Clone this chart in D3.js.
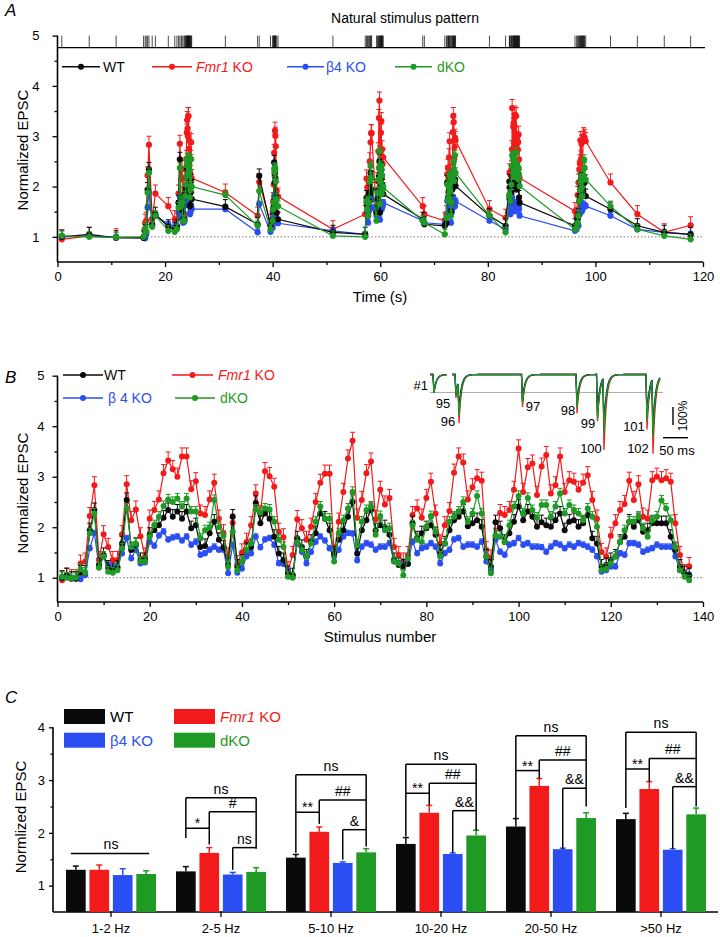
<!DOCTYPE html>
<html><head><meta charset="utf-8">
<script src="https://cdn.jsdelivr.net/npm/d3@7"></script>
<style>
body{margin:0;background:#fff;}
svg{display:block;font-family:"Liberation Sans",Arial,Helvetica,sans-serif;}
</style></head><body>
<svg id="fig" width="720" height="937"></svg>
<script>
// ---------------- DATA ----------------
const stimTimes = [0.8,5.9,10.9,16.0,16.3,16.5,16.75,17.0,17.6,18.2,
 20.6,21.8,22.2,22.5,22.75,23.0,23.15,23.35,23.6,23.75,
 23.85,23.95,24.03,24.1,24.17,24.24,24.3,24.36,24.45,24.53,
 24.62,24.7,24.77,24.84,24.95,31.2,37.2,37.5,39.6,40.0,
 40.1,40.2,40.28,40.36,40.43,40.5,40.58,40.75,41.0,51.2,
 57.2,57.45,57.6,57.75,57.9,58.05,58.2,58.3,58.4,59.3,
 59.5,59.65,59.75,59.85,59.95,60.05,60.13,60.2,60.28,60.36,
 60.45,60.55,67.9,68.2,72.0,72.3,72.45,72.6,72.7,72.8,
 72.9,73.0,73.15,73.3,73.4,73.5,73.58,73.66,73.75,73.83,
 73.9,74.0,80.3,83.3,84.0,84.05,84.2,84.38,84.48,84.52,
 84.7,84.73,84.8,84.9,84.98,85.05,85.12,85.2,85.27,85.35,
 85.42,85.5,85.57,85.64,85.72,85.8,85.9,96.2,96.5,96.7,
 96.85,97.0,97.1,97.2,97.3,97.4,97.5,97.6,97.7,97.8,
 97.9,98.0,98.2,102.8,107.8,112.8,117.7];

const wtEPSC = [1.0,1.05,0.98,0.98,1.1,1.1,1.94,2.34,1.25,1.45,
 1.2,1.15,1.2,1.68,2.54,1.55,1.65,1.35,1.35,1.85,
 1.94,2.04,2.19,2.34,2.21,2.31,2.17,2.31,1.98,2.04,
 1.61,1.63,1.88,2.11,1.75,1.6,1.25,2.21,1.22,1.32,
 1.55,1.61,2.48,2.08,2.27,2.17,1.81,1.48,1.35,1.09,
 1.05,1.78,1.61,1.42,1.71,1.88,2.27,2.17,1.94,1.48,
 1.75,1.94,2.21,2.5,1.48,1.94,2.14,2.34,1.94,2.04,
 2.0,1.85,1.35,1.25,1.22,1.27,2.08,1.78,1.88,1.98,
 2.04,1.85,1.51,1.68,1.94,2.14,2.21,2.31,2.02,2.08,
 2.14,2.01,1.42,1.22,2.1,1.98,1.71,1.88,2.11,2.41,
 2.14,2.31,2.21,2.01,2.1,2.04,2.01,2.14,2.27,1.94,
 2.11,2.14,2.01,2.08,2.24,1.78,1.68,1.22,1.25,1.35,
 1.42,1.71,1.81,2.11,2.01,2.14,1.91,1.94,2.08,2.08,
 2.08,2.08,1.81,1.55,1.22,1.09,1.05];

const fmr1EPSC = [0.95,1.02,0.99,0.99,1.28,1.32,2.22,2.83,1.35,1.86,
 1.61,1.35,1.35,1.86,2.85,2.14,2.35,1.82,1.42,2.17,
 2.34,2.55,3.07,3.32,3.15,3.0,3.4,3.4,2.75,2.91,
 2.27,2.24,2.55,2.88,2.17,1.88,1.42,2.09,1.27,1.5,
 1.71,2.04,2.67,2.26,3.11,3.01,2.8,1.91,1.8,1.15,
 1.45,2.16,1.98,1.75,2.01,2.5,2.88,3.06,3.06,1.48,
 2.11,2.7,3.36,3.71,2.19,2.54,3.07,3.3,2.16,2.74,
 2.45,2.58,1.61,1.45,1.32,1.45,2.24,2.37,2.19,2.58,
 2.9,2.27,1.68,2.04,2.32,3.08,3.4,3.28,2.55,2.79,
 2.97,2.92,1.55,1.38,1.81,2.28,2.24,2.34,2.74,3.56,
 2.7,3.19,3.26,2.64,3.2,3.43,2.67,2.83,3.4,2.7,
 2.93,2.9,2.74,2.88,3.03,2.54,2.17,1.51,1.42,1.83,
 2.08,2.34,2.46,2.92,2.54,2.85,2.21,2.17,2.93,3.0,
 2.93,2.97,2.9,2.08,1.45,1.09,1.23];

const b4EPSC = [1.0,1.02,0.99,0.98,0.97,1.05,1.58,1.88,1.22,1.42,
 1.25,1.2,1.22,1.48,1.78,1.38,1.55,1.28,1.3,1.71,
 1.63,1.83,1.91,1.75,1.79,1.81,1.73,1.81,1.65,1.71,
 1.45,1.48,1.55,1.61,1.55,1.55,1.09,1.65,1.1,1.18,
 1.42,1.48,1.81,1.6,1.75,1.78,1.65,1.28,1.27,1.12,
 1.05,1.68,1.51,1.28,1.51,1.71,1.81,1.73,1.58,1.42,
 1.55,1.81,1.88,1.87,1.34,1.61,1.68,1.65,1.55,1.61,
 1.61,1.68,1.32,1.28,1.25,1.28,1.71,1.48,1.58,1.61,
 1.68,1.61,1.28,1.48,1.55,1.75,1.78,1.61,1.65,1.65,
 1.61,1.71,1.32,1.15,1.75,1.51,1.45,1.65,1.68,1.78,
 1.65,1.68,1.61,1.61,1.6,1.51,1.61,1.68,1.65,1.58,
 1.65,1.61,1.68,1.65,1.61,1.55,1.42,1.12,1.15,1.22,
 1.22,1.48,1.45,1.68,1.68,1.65,1.51,1.55,1.58,1.65,
 1.61,1.61,1.61,1.42,1.15,1.09,1.05];

const dkoEPSC = [1.02,1.0,0.99,1.0,1.17,1.1,1.88,2.27,1.2,1.42,
 1.12,1.1,1.15,1.58,2.37,1.61,1.68,1.32,1.32,1.81,
 2.04,2.21,2.42,2.55,2.5,2.57,2.41,2.57,2.31,2.31,
 1.78,1.94,2.0,2.54,2.0,1.83,1.22,1.91,1.15,1.32,
 1.55,1.68,2.35,2.29,2.37,2.35,2.11,1.75,1.61,1.02,
 1.0,1.71,1.55,1.42,1.68,2.11,2.41,2.17,2.17,1.32,
 1.88,2.14,2.37,2.7,1.65,2.11,2.34,2.41,1.85,2.22,
 1.94,1.98,1.32,1.28,1.05,1.38,2.04,1.75,1.71,2.01,
 2.22,1.91,1.42,1.68,2.11,2.21,2.31,2.5,2.11,2.27,
 2.62,2.27,1.42,1.09,1.84,1.81,1.71,2.04,2.41,2.62,
 2.27,2.58,2.34,2.19,2.44,2.44,2.21,2.41,2.67,2.27,
 2.44,2.34,2.27,2.14,2.37,2.21,2.01,1.15,1.18,1.28,
 1.42,1.71,1.94,2.11,2.11,2.21,1.98,1.81,2.14,2.21,
 2.53,2.37,2.14,1.61,1.15,1.02,0.95];

// approximate SEM per genotype (panels A, B)
const semWT = 0.14, semFmr1 = 0.17, semB4 = 0.06, semDKO = 0.10;

// inset traces (stimuli 95-102), time in ms, peaks normalized to #1
const insetLabels = ["95","96","97","98","99","100","101","102"];
const insetTimes = [6,12,139,248,289,302,388,400];
const insetFmr1 = [1.3,2.7,1.8,2.15,2.6,4.2,3.05,4.4];
const insetDKO  = [1.2,2.3,1.6,1.85,2.5,3.3,2.6,3.5];
const insetWT   = [1.15,2.1,1.5,1.7,2.3,3.1,2.4,3.3];
const insetB4   = [1.1,1.9,1.4,1.55,2.0,2.7,2.2,2.9];

// panel C
const freqCats = ["1-2 Hz","2-5 Hz","5-10 Hz","10-20 Hz","20-50 Hz",">50 Hz"];
const barWT   = [1.30,1.27,1.53,1.79,2.12,2.26];
const barFmr1 = [1.30,1.62,2.02,2.38,2.89,2.83];
const barB4   = [1.20,1.21,1.43,1.60,1.69,1.68];
const barDKO  = [1.22,1.26,1.63,1.95,2.28,2.35];
const errWT   = [0.07,0.09,0.06,0.12,0.15,0.11];
const errFmr1 = [0.09,0.10,0.09,0.14,0.14,0.14];
const errB4   = [0.12,0.04,0.02,0.02,0.02,0.02];
const errDKO  = [0.06,0.08,0.07,0.10,0.10,0.12];
// significance annotations
const sigOuter = [1.61,2.667,3.10,3.30,3.84,3.905];
const sigStar  = [null,2.087,2.39,2.75,3.18,3.21];
const sigHash  = [null,2.40,2.62,2.94,3.38,3.41];
const sigAmp   = [null,1.72,2.06,2.42,2.845,2.875];
const lblOuter = ["ns","ns","ns","ns","ns","ns"];
const lblStar  = [null,"*","**","**","**","**"];
const lblHash  = [null,"#","##","##","##","##"];
const lblAmp   = [null,"ns","&","&&","&&","&&"];
const dropWT   = [null,1.90,1.625,1.93,2.28,2.47];
const dropFmr1 = [null,1.78,2.17,2.53,3.03,2.97];
const dropB4   = [null,1.30,1.49,1.625,1.69,1.70];
const dropDKO  = [null,1.70,1.74,2.05,2.50,2.50];

// ---------------- DRAW ----------------
const COL = {wt:"#0a0a0a", fmr:"#f21a1a", b4:"#2b4ef2", dko:"#1f9a25"};
const svg = d3.select("#fig");
const FONT = '"Liberation Sans",Arial,Helvetica,sans-serif';
const intFmt = d3.format("d");

const series = [
  {key:"fmr", vals:fmr1EPSC, sem:semFmr1},
  {key:"b4",  vals:b4EPSC,   sem:semB4},
  {key:"wt",  vals:wtEPSC,   sem:semWT},
  {key:"dko", vals:dkoEPSC,  sem:semDKO}
];

function styleAxis(g, fs){
  g.select(".domain").remove();
  g.selectAll("line").attr("stroke","#000").attr("stroke-width",1.3);
  g.selectAll("text").attr("font-size",fs||13).attr("fill","#000").attr("font-family",FONT);
}
function letter(txt,x,y){
  svg.append("text").attr("x",x).attr("y",y).attr("font-size",17).attr("font-style","italic").text(txt);
}
function drawSeries(g, xs, yScale, r){
  series.forEach(s=>{
    const c = COL[s.key];
    const pts = s.vals.map((v,i)=>({x:xs(i), v}));
    const gg = g.append("g");
    pts.forEach(p=>{
      const yt = yScale(p.v + s.sem);
      gg.append("line").attr("x1",p.x).attr("x2",p.x).attr("y1",yScale(p.v)).attr("y2",yt).attr("stroke",c).attr("stroke-width",1);
      gg.append("line").attr("x1",p.x-2.5).attr("x2",p.x+2.5).attr("y1",yt).attr("y2",yt).attr("stroke",c).attr("stroke-width",1);
    });
    gg.append("path").attr("d", d3.line().x(p=>p.x).y(p=>yScale(p.v))(pts))
      .attr("fill","none").attr("stroke",c).attr("stroke-width",1.2);
    gg.selectAll("circle").data(pts).join("circle").attr("cx",p=>p.x).attr("cy",p=>yScale(p.v)).attr("r",r).attr("fill",c);
  });
}
function legendLine(g,x1,x2,y,color,parts,tx){
  g.append("line").attr("x1",x1).attr("x2",x2).attr("y1",y).attr("y2",y).attr("stroke",color).attr("stroke-width",1.4);
  g.append("circle").attr("cx",(x1+x2)/2).attr("cy",y).attr("r",3).attr("fill",color);
  const t = g.append("text").attr("x",tx).attr("y",y+5).attr("font-size",14).attr("fill",color);
  parts.forEach(p=>t.append("tspan").attr("font-style",p[1]?"italic":null).text(p[0]));
}

// ===== Panel A =====
letter("A",5,16);
svg.append("text").attr("x",405).attr("y",23).attr("text-anchor","middle").attr("font-size",14).text("Natural stimulus pattern");
const xA = d3.scaleLinear().domain([0,120]).range([57.5,703]);
const yA = d3.scaleLinear().domain([0.5,5]).range([262,35.6]);
const gA = svg.append("g");
const stimBase = yA(5)+12;
gA.append("line").attr("x1",57.5).attr("x2",705).attr("y1",stimBase).attr("y2",stimBase).attr("stroke","#000").attr("stroke-width",1.2);
gA.selectAll("line.stim").data(stimTimes).join("line").attr("class","stim")
  .attr("x1",d=>xA(d)).attr("x2",d=>xA(d)).attr("y1",stimBase).attr("y2",yA(5)).attr("stroke","#000").attr("stroke-width",0.7);
gA.append("g").attr("transform","translate(0,262)").call(d3.axisBottom(xA).tickValues([0,20,40,60,80,100,120]).tickFormat(intFmt).tickSize(5).tickPadding(5)).call(g=>styleAxis(g));
gA.append("g").attr("transform","translate(0,262)").call(d3.axisBottom(xA).tickValues([10,30,50,70,90,110]).tickSize(3).tickFormat("")).call(g=>styleAxis(g));
gA.append("g").attr("transform","translate(57.5,0)").call(d3.axisLeft(yA).tickValues([1,2,3,4,5]).tickFormat(intFmt).tickSize(5).tickPadding(13)).call(g=>styleAxis(g));
gA.append("g").attr("transform","translate(57.5,0)").call(d3.axisLeft(yA).tickValues([1.5,2.5,3.5,4.5]).tickSize(3).tickFormat("")).call(g=>styleAxis(g));
gA.append("line").attr("x1",57.5).attr("x2",703).attr("y1",262).attr("y2",262).attr("stroke","#000").attr("stroke-width",1.6);
gA.append("line").attr("x1",57.5).attr("x2",57.5).attr("y1",262).attr("y2",yA(5)).attr("stroke","#000").attr("stroke-width",1.6);
gA.append("line").attr("x1",60).attr("x2",703).attr("y1",yA(1)).attr("y2",yA(1)).attr("stroke","#777").attr("stroke-width",1).attr("stroke-dasharray","1.5,2");
drawSeries(gA, i=>xA(stimTimes[i]), yA, 3.1);
gA.append("text").attr("transform","translate(22,150) rotate(-90)").attr("text-anchor","middle").attr("dominant-baseline","central").attr("font-size",15).text("Normalized EPSC");
gA.append("text").attr("x",380).attr("y",302).attr("text-anchor","middle").attr("font-size",15).text("Time (s)");
const legA = svg.append("g");
legendLine(legA,62,100,66.7,COL.wt,[["WT",0]],103);
legendLine(legA,152,192,66.7,COL.fmr,[["Fmr1",1],[" KO",0]],196);
legendLine(legA,287,324,66.7,COL.b4,[["β4 KO",0]],326);
legendLine(legA,395,432,66.7,COL.dko,[["dKO",0]],437);

// ===== Panel B =====
letter("B",5,383);
const xB = d3.scaleLinear().domain([0,140]).range([57.5,703]);
const yB = d3.scaleLinear().domain([0.5,5]).range([603,375.7]);
const gB = svg.append("g");
gB.append("g").attr("transform","translate(0,602)").call(d3.axisBottom(xB).tickValues(d3.range(0,141,20)).tickFormat(intFmt).tickSize(5).tickPadding(5)).call(g=>styleAxis(g));
gB.append("g").attr("transform","translate(0,602)").call(d3.axisBottom(xB).tickValues(d3.range(10,140,20)).tickSize(3).tickFormat("")).call(g=>styleAxis(g));
gB.append("g").attr("transform","translate(57.5,0)").call(d3.axisLeft(yB).tickValues([1,2,3,4,5]).tickFormat(intFmt).tickSize(5).tickPadding(8)).call(g=>styleAxis(g));
gB.append("g").attr("transform","translate(57.5,0)").call(d3.axisLeft(yB).tickValues([1.5,2.5,3.5,4.5]).tickSize(3).tickFormat("")).call(g=>styleAxis(g));
gB.append("line").attr("x1",57.5).attr("x2",703).attr("y1",602).attr("y2",602).attr("stroke","#000").attr("stroke-width",1.6);
gB.append("line").attr("x1",57.5).attr("x2",57.5).attr("y1",602).attr("y2",yB(5)).attr("stroke","#000").attr("stroke-width",1.6);
gB.append("line").attr("x1",60).attr("x2",703).attr("y1",yB(1)).attr("y2",yB(1)).attr("stroke","#777").attr("stroke-width",1).attr("stroke-dasharray","1.5,2");
drawSeries(gB, i=>xB(i+1), yB, 3);
gB.append("text").attr("transform","translate(22,493) rotate(-90)").attr("text-anchor","middle").attr("dominant-baseline","central").attr("font-size",15).text("Normalized EPSC");
gB.append("text").attr("x",380).attr("y",642).attr("text-anchor","middle").attr("font-size",15).text("Stimulus number");
const legB = svg.append("g");
legendLine(legB,63,103,375,COL.wt,[["WT",0]],104);
legendLine(legB,172,213,375,COL.fmr,[["Fmr1",1],["  KO",0]],218);
legendLine(legB,63,103,398,COL.b4,[["β 4 KO",0]],108);
legendLine(legB,175,215,398,COL.dko,[["dKO",0]],220);

// ----- inset traces -----
const gI = svg.append("g");
const xI = d3.scaleLinear().domain([0,416]).range([452,660]);
const yI = d3.scaleLinear().domain([0,1]).range([374.5,392.5]);
gI.append("line").attr("x1",430).attr("x2",663).attr("y1",yI(1)).attr("y2",yI(1)).attr("stroke","#999").attr("stroke-width",0.8);
function trace(times, peaks, t0, t1){
  const out=[]; const rise=2, tau=5;
  let idx=-1, prevAtOnset=0, cur=0;
  for(let t=t0;t<=t1+1e-9;t+=0.5){
    while(idx+1<times.length && times[idx+1]<=t){ idx++; prevAtOnset=cur; }
    if(idx<0) cur=0;
    else {
      const dt=t-times[idx];
      cur = dt<rise ? prevAtOnset+(peaks[idx]-prevAtOnset)*dt/rise : peaks[idx]*Math.exp(-(dt-rise)/tau);
    }
    out.push([t,cur]);
  }
  return out;
}
const insetSeries = [["fmr",insetFmr1],["b4",insetB4],["wt",insetWT],["dko",insetDKO]];
const tl = d3.line().x(d=>xI(d[0])).y(d=>yI(d[1]));
insetSeries.forEach(([k,pk])=>{
  gI.append("path").attr("d",tl(trace([-38],[1.0],-44,-10))).attr("fill","none").attr("stroke",COL[k]).attr("stroke-width",1.3);
  gI.append("path").attr("d",tl(trace(insetTimes,pk,0,416))).attr("fill","none").attr("stroke",COL[k]).attr("stroke-width",1.3);
});
const insetLblPos = [[443,408],[448,426],[533,411],[568,415],[588,428],[591,453],[634,431],[638,453]];
insetLabels.forEach((l,i)=>gI.append("text").attr("x",insetLblPos[i][0]).attr("y",insetLblPos[i][1]).attr("text-anchor","middle").attr("font-size",13).text(l));
gI.append("text").attr("x",428).attr("y",390).attr("text-anchor","end").attr("font-size",13).text("#1");
gI.append("line").attr("x1",673).attr("x2",673).attr("y1",407).attr("y2",407+(yI(1)-yI(0))).attr("stroke","#000").attr("stroke-width",1.4);
gI.append("text").attr("transform","translate(683,416) rotate(-90)").attr("text-anchor","middle").attr("dominant-baseline","central").attr("font-size",12).text("100%");
gI.append("line").attr("x1",663).attr("x2",663+(xI(50)-xI(0))).attr("y1",437.7).attr("y2",437.7).attr("stroke","#000").attr("stroke-width",1.4);
gI.append("text").attr("x",677).attr("y",455).attr("text-anchor","middle").attr("font-size",13).text("50 ms");

// ===== Panel C =====
letter("C",5,703);
const yC = d3.scaleLinear().domain([0.5,4]).range([912,727.3]);
const xC = d3.scaleBand().domain(freqCats).range([56,716]);
const keys = ["wt","fmr","b4","dko"];
const xIn = d3.scaleBand().domain(keys).range([-45,45]).paddingInner(0.16);
const gC = svg.append("g");
gC.append("g").attr("transform","translate(53,0)").call(d3.axisLeft(yC).tickValues([1,2,3,4]).tickFormat(intFmt).tickSize(4).tickPadding(4)).call(g=>styleAxis(g));
gC.append("g").attr("transform","translate(53,0)").call(d3.axisLeft(yC).tickValues([1.5,2.5,3.5]).tickSize(2.5).tickFormat("")).call(g=>styleAxis(g));
gC.append("g").attr("transform","translate(0,912)").call(d3.axisBottom(xC).tickSize(5).tickPadding(7)).call(g=>styleAxis(g));
gC.append("line").attr("x1",53).attr("x2",718).attr("y1",912).attr("y2",912).attr("stroke","#000").attr("stroke-width",1.6);
gC.append("line").attr("x1",53).attr("x2",53).attr("y1",912).attr("y2",yC(4)).attr("stroke","#000").attr("stroke-width",1.6);
gC.append("text").attr("transform","translate(20,817) rotate(-90)").attr("text-anchor","middle").attr("dominant-baseline","central").attr("font-size",15).text("Normlized EPSC");

const barData = {wt:[barWT,errWT], fmr:[barFmr1,errFmr1], b4:[barB4,errB4], dko:[barDKO,errDKO]};
const bw = xIn.bandwidth();
const cx = (cat,k)=> xC(cat)+xC.bandwidth()/2 + xIn(k) + bw/2;
freqCats.forEach((cat,i)=>{
  keys.forEach(k=>{
    const v = barData[k][0][i], e = barData[k][1][i], c = COL[k];
    const x = cx(cat,k);
    gC.append("line").attr("x1",x).attr("x2",x).attr("y1",yC(v)).attr("y2",yC(v+e)).attr("stroke",c).attr("stroke-width",1.5);
    gC.append("line").attr("x1",x-3).attr("x2",x+3).attr("y1",yC(v+e)).attr("y2",yC(v+e)).attr("stroke",c).attr("stroke-width",1.5);
    gC.append("rect").attr("x",x-bw/2).attr("y",yC(v)).attr("width",bw).attr("height",yC(0.5)-yC(v)).attr("fill",c);
  });
});
const gS = gC.append("g").attr("stroke","#000").attr("stroke-width",1.5).attr("fill","none");
function seg(x1,y1,x2,y2){ gS.append("line").attr("x1",x1).attr("y1",y1).attr("x2",x2).attr("y2",y2); }
function lab(t,x,y){ gC.append("text").attr("x",x).attr("y",y-4).attr("text-anchor","middle").attr("font-size",14).text(t); }
freqCats.forEach((cat,i)=>{
  const xw=cx(cat,"wt"), xf=cx(cat,"fmr"), xb=cx(cat,"b4"), xd=cx(cat,"dko");
  if(i===0){
    seg(xw-5,yC(sigOuter[0]),xd+3,yC(sigOuter[0]));
    lab(lblOuter[0],(xw+xd)/2,yC(sigOuter[0]));
    return;
  }
  const yo=yC(sigOuter[i]), ys=yC(sigStar[i]), yh=yC(sigHash[i]), ya=yC(sigAmp[i]);
  seg(xw,yo,xd,yo); seg(xw,yo,xw,yC(dropWT[i])); seg(xd,yo,xd,yC(dropDKO[i]));
  seg(xw,ys,xf,ys); seg(xf,yh,xf,yC(dropFmr1[i])); seg(xf,yh,xd,yh);
  seg(xb,ya,xd,ya); seg(xb,ya,xb,yC(dropB4[i]));
  lab(lblOuter[i],(xw+xd)/2,yo);
  lab(lblStar[i],(xw+xf)/2,ys+4);
  lab(lblHash[i],(xf+xd)/2,yh);
  lab(lblAmp[i],(xb+xd)/2,ya);
});
const legC = svg.append("g");
[["wt",64,709,[["WT",0]]],["fmr",174,709,[["Fmr1",1],[" KO",0]]],["b4",64,732.7,[["β4 KO",0]]],["dko",174,732.7,[["dKO",0]]]].forEach(([k,x,y,parts])=>{
  legC.append("rect").attr("x",x).attr("y",y).attr("width",41).attr("height",15).attr("fill",COL[k]);
  const t = legC.append("text").attr("x",x+46).attr("y",y+13).attr("font-size",15).attr("fill",k==="wt"?"#000":COL[k]);
  parts.forEach(p=>t.append("tspan").attr("font-style",p[1]?"italic":null).text(p[0]));
});
</script>
</body></html>
